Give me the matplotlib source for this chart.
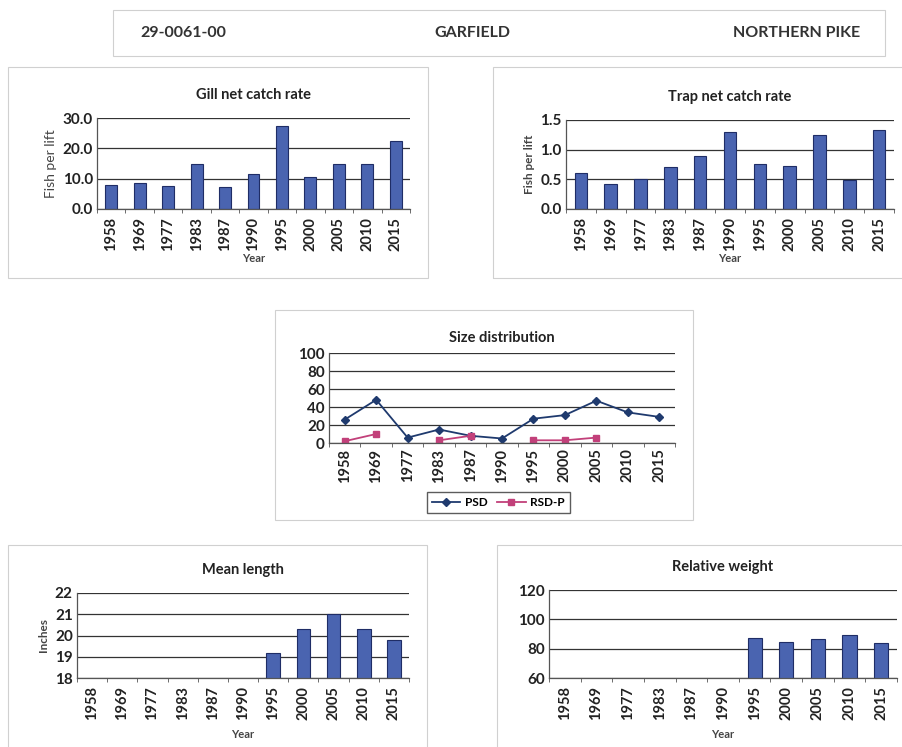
import matplotlib
matplotlib.use('Agg')
import matplotlib.pyplot as plt
from matplotlib.patches import Rectangle
import numpy as np

plt.rcParams['font.family'] = ['Lato', 'DejaVu Sans']

W, H = 903, 747

years = ['1958', '1969', '1977', '1983', '1987', '1990', '1995', '2000', '2005', '2010', '2015']
gill_rate = [7.9, 8.6, 7.6, 14.7, 7.1, 11.4, 27.2, 10.7, 14.7, 14.7, 22.5]
trap_rate = [0.61, 0.42, 0.51, 0.70, 0.90, 1.30, 0.76, 0.72, 1.25, 0.49, 1.33]
psd = [26, 48, 6, 15, 8, 5, 27, 31, 47, 34, 29]
rsd_p = [2, 10, np.nan, 3, 8, np.nan, 3, 3, 6, np.nan, np.nan]
mean_len = [np.nan] * 6 + [19.2, 20.3, 21.0, 20.3, 19.8]
rel_wt = [np.nan] * 6 + [87.5, 84.5, 86.5, 89.5, 84.0]

header = ['29-0061-00', 'GARFIELD', 'NORTHERN PIKE']

bar_col = '#4a64b0'
edge_col = '#1f2d66'
grid_col = '#333333'
txt_col = '#222222'

fig = plt.figure(figsize=(W / 100, H / 100), dpi=100)


def px_rect(l, t, r, b):
    return [l / W, 1 - b / H, (r - l) / W, (b - t) / H]


def box(l, t, r, b):
    fig.patches.append(Rectangle((l / W, 1 - b / H), (r - l) / W, (b - t) / H,
                                 transform=fig.transFigure, fill=False,
                                 edgecolor='#d0d0d0', linewidth=0.8))


def setup(ax, title, ylim, yticks, fmt, ylabel, ylabel_bold, ylabel_size):
    x = np.arange(len(years))
    ax.set_xlim(-0.5, len(years) - 0.5)
    ax.set_ylim(*ylim)
    ax.set_yticks(yticks)
    ax.set_yticklabels([fmt.format(v) for v in yticks], fontsize=11,
                       fontweight='bold', color=txt_col)
    ax.set_xticks(x)
    ax.set_xticklabels(years, rotation=90, fontsize=10.5, fontweight='bold', color=txt_col)
    ax.tick_params(axis='x', length=0, pad=6)
    ax.set_xticks(np.arange(len(years) + 1) - 0.5, minor=True)
    ax.tick_params(axis='x', which='minor', length=3, color='#555555')
    ax.tick_params(axis='y', length=0, pad=3)
    ax.grid(axis='y', color=grid_col, linewidth=0.9)
    ax.set_axisbelow(True)
    for s in ['top', 'right']:
        ax.spines[s].set_visible(False)
    for s in ['left', 'bottom']:
        ax.spines[s].set_color('#555555')
        ax.spines[s].set_linewidth(0.9)
    ax.set_title(title, fontsize=10.5, fontweight='bold', color=txt_col, pad=14)
    if ylabel:
        ax.set_ylabel(ylabel, fontsize=ylabel_size, color='#444444',
                      fontweight='bold' if ylabel_bold else 'normal', labelpad=4)
    return x


# header
box(113, 10, 885, 56)
fig.text(140 / W, 1 - 33 / H, header[0], fontsize=11.5, fontweight='bold', color='#333333', va='center')
fig.text(472 / W, 1 - 33 / H, header[1], fontsize=11.5, fontweight='bold', color='#333333', va='center', ha='center')
fig.text(860 / W, 1 - 33 / H, header[2], fontsize=11.5, fontweight='bold', color='#333333', va='center', ha='right')

# gill net
box(8, 67, 428, 278)
ax = fig.add_axes(px_rect(97, 118, 410, 209))
x = setup(ax, 'Gill net catch rate', (0, 30), [0, 10, 20, 30], '{:.1f}', 'Fish per lift', False, 10)
ax.bar(x, gill_rate, width=0.42, color=bar_col, edgecolor=edge_col, linewidth=0.8)
ax.set_xlabel('Year', fontsize=8, fontweight='bold', color='#444444', labelpad=1)

# trap net
box(493, 67, 910, 278)
ax = fig.add_axes(px_rect(566, 120, 894, 209))
x = setup(ax, 'Trap net catch rate', (0, 1.5), [0, 0.5, 1.0, 1.5], '{:.1f}', 'Fish per lift', True, 8.5)
ax.bar(x, trap_rate, width=0.42, color=bar_col, edgecolor=edge_col, linewidth=0.8)
ax.set_xlabel('Year', fontsize=8, fontweight='bold', color='#444444', labelpad=1)

# size distribution
box(275, 310, 693, 520)
ax = fig.add_axes(px_rect(329, 353, 675, 443))
x = setup(ax, 'Size distribution', (0, 100), [0, 20, 40, 60, 80, 100], '{:d}', None, False, 8)
ax.set_title('Size distribution', fontsize=10.5, fontweight='bold', color=txt_col, pad=8)
ax.plot(x, psd, color='#1f3a6e', marker='D', markersize=4.5, linewidth=1.3, label='PSD')
ax.plot(x, rsd_p, color='#c2407a', marker='s', markersize=5, linewidth=1.3, label='RSD-P')
ax.tick_params(axis='x', pad=4)
leg = ax.legend(loc='upper center', bbox_to_anchor=(0.49, -0.48), ncol=2, fontsize=8.5,
                frameon=True, fancybox=False, edgecolor='#333333', handlelength=2.4,
                borderpad=0.4, columnspacing=0.8, handletextpad=0.4)
for t in leg.get_texts():
    t.set_fontweight('bold')

# mean length
box(8, 545, 427, 760)
ax = fig.add_axes(px_rect(77, 593, 409, 678))
x = setup(ax, 'Mean length', (18, 22), [18, 19, 20, 21, 22], '{:d}', 'Inches', True, 8.5)
ax.bar(x, mean_len, width=0.45, color=bar_col, edgecolor=edge_col, linewidth=0.8)
ax.set_xlabel('Year', fontsize=8, fontweight='bold', color='#444444', labelpad=6)

# relative weight
box(497, 545, 910, 760)
ax = fig.add_axes(px_rect(549, 590, 897, 678))
x = setup(ax, 'Relative weight', (60, 120), [60, 80, 100, 120], '{:d}', None, False, 8)
ax.bar(x, rel_wt, width=0.45, color=bar_col, edgecolor=edge_col, linewidth=0.8)
ax.set_xlabel('Year', fontsize=8, fontweight='bold', color='#444444', labelpad=6)

fig.savefig('out.png', dpi=100)
